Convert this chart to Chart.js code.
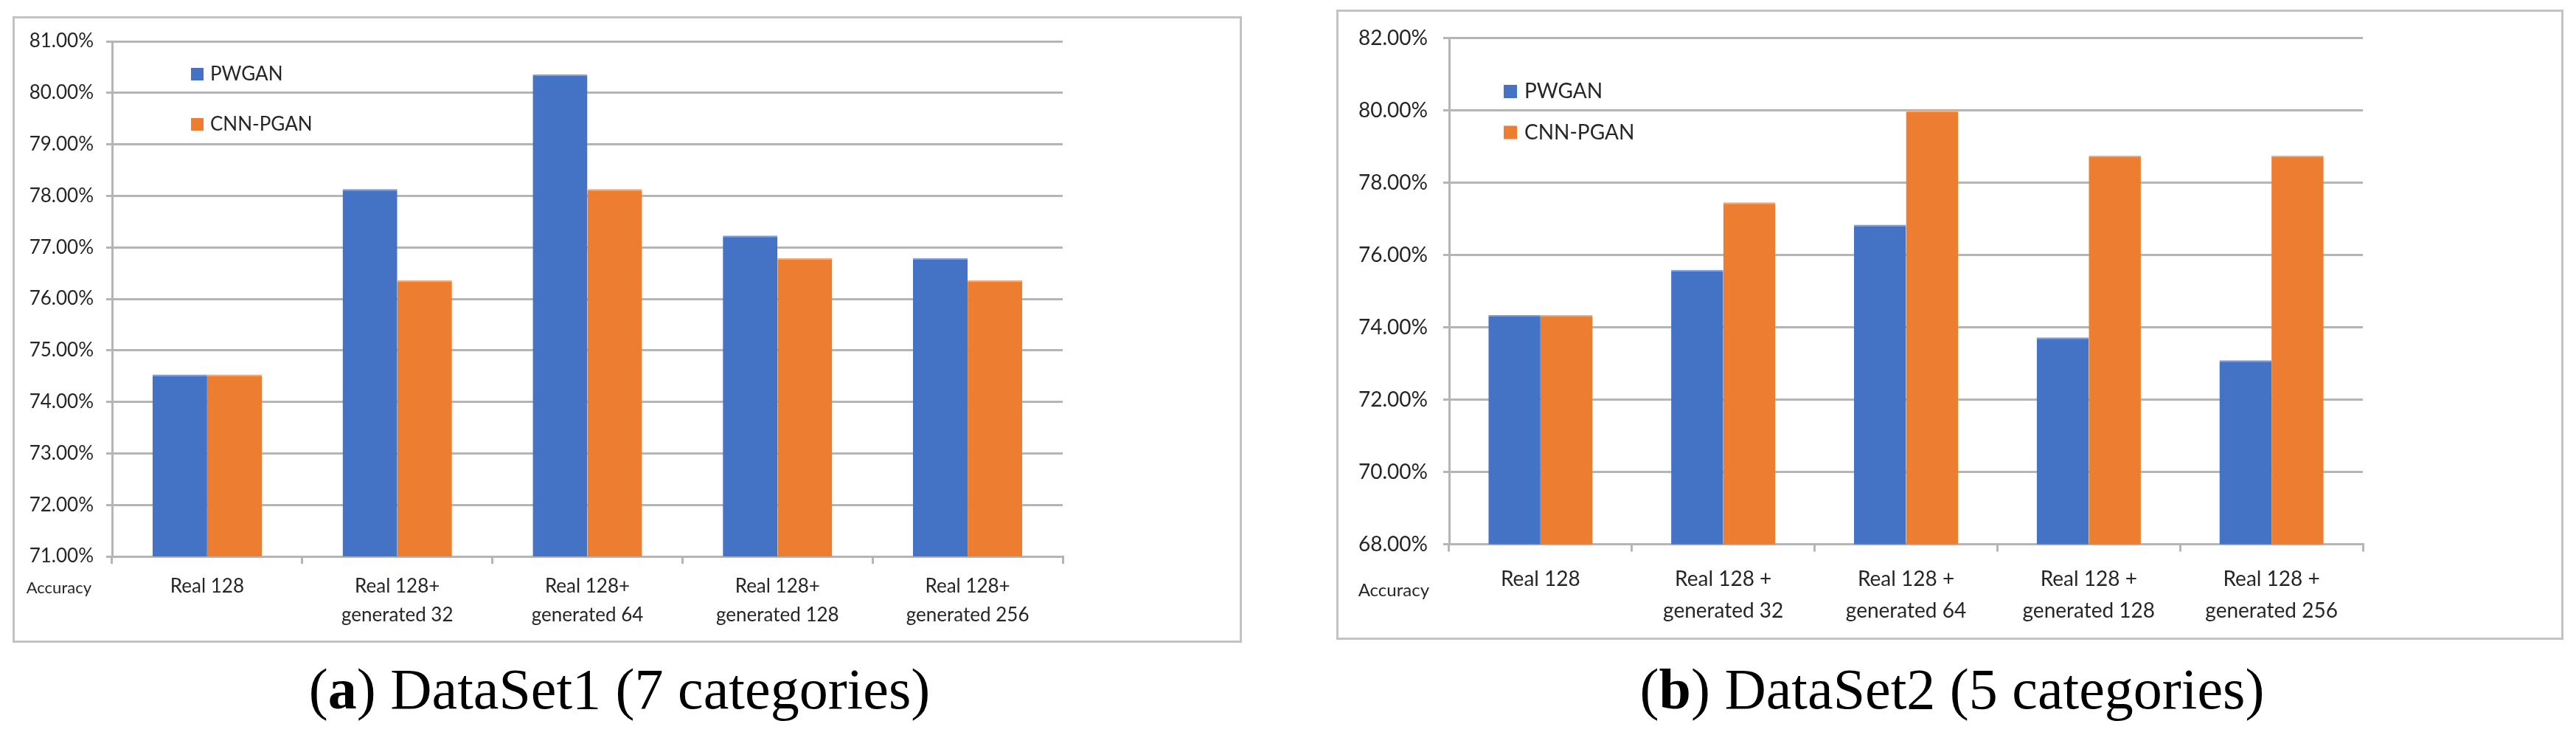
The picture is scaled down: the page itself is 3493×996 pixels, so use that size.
<!DOCTYPE html>
<html>
<head>
<meta charset="utf-8">
<script src="https://cdn.jsdelivr.net/npm/chart.js@4.4.1/dist/chart.umd.min.js"></script>
<style>
  html, body { margin: 0; padding: 0; background: #fff; }
  body { width: 3493px; height: 996px; position: relative; overflow: hidden; }
  .box { position: absolute; }
  .frame { position: absolute; border: 3px solid #c3c3c3; box-sizing: border-box; pointer-events: none; }
  .caption { position: absolute; top: 895px; width: 1400px; text-align: center; font: 78px 'Liberation Serif', 'DejaVu Serif', serif; line-height: 78px; color: #000; white-space: nowrap; }
</style>
</head>
<body>
<div class="box" style="left:18px;top:23px;width:1664px;height:846px"><canvas id="chartA"></canvas></div>
<div class="frame" style="left:17px;top:22px;width:1667px;height:849px"></div>
<div class="box" style="left:1813px;top:14px;width:1661px;height:851px"><canvas id="chartB"></canvas></div>
<div class="frame" style="left:1812px;top:13px;width:1664px;height:854px"></div>
<div class="caption" style="left:140px">(<b>a</b>) DataSet1 (7 categories)</div>
<div class="caption" style="left:1947px">(<b>b</b>) DataSet2 (5 categories)</div>
<script>
const seriesNames = ['PWGAN', 'CNN-PGAN'];
const seriesColors = ['#4472c4', '#ed7d31'];
const edgeColors = ['#7b9bd8', '#f4a874'];

// DataSet1 (7 categories)
const categoriesA = ['Real 128', ['Real 128+', 'generated 32'], ['Real 128+', 'generated 64'],
  ['Real 128+', 'generated 128'], ['Real 128+', 'generated 256']];
const pwganA = [74.53, 78.13, 80.36, 77.23, 76.79];
const cnnA = [74.53, 76.36, 78.13, 76.79, 76.36];
const yTicksA = { min: 71, max: 81, step: 1 };

// DataSet2 (5 categories)
const categoriesB = ['Real 128', ['Real 128 +', 'generated 32'], ['Real 128 +', 'generated 64'],
  ['Real 128 +', 'generated 128'], ['Real 128 +', 'generated 256']];
const pwganB = [74.34, 75.59, 76.84, 73.72, 73.09];
const cnnB = [74.34, 77.46, 80.00, 78.75, 78.75];
const yTicksB = { min: 68, max: 82, step: 2 };

const axisCaption = 'Accuracy';
const textColor = '#262626';
const gridColor = '#b5b5b5';

// legend drawn inside the plot, plus the "Accuracy" label under the value axis
const insideLegend = {
  id: 'insideLegend',
  afterDraw(chart, args, o) {
    const ctx = chart.ctx;
    ctx.save();
    ctx.font = o.font;
    ctx.textBaseline = 'middle';
    chart.data.datasets.forEach((ds, i) => {
      const cy = o.y + i * o.gap;
      ctx.fillStyle = ds.backgroundColor;
      ctx.fillRect(o.x, cy - o.box / 2, o.box, o.box);
      ctx.fillStyle = textColor;
      ctx.fillText(ds.label, o.x + o.box + o.textGap, cy);
    });
    ctx.font = o.axisFont;
    ctx.textAlign = 'right';
    ctx.fillText(o.axisText, o.axisX, o.axisY);
    ctx.restore();
  }
};

function makeChart(id, labels, a, b, yt, s) {
  const font = { family: 'Lato, Carlito, sans-serif', size: s.fontSize };
  return new Chart(document.getElementById(id).getContext('2d'), {
    type: 'bar',
    data: {
      labels,
      datasets: [a, b].map((values, i) => ({
        label: seriesNames[i],
        data: values,
        backgroundColor: seriesColors[i],
        borderColor: edgeColors[i],
        borderWidth: { top: 2, left: 0, right: 0, bottom: 0 },
        borderSkipped: false,
        categoryPercentage: s.catPct,
        barPercentage: 1.0
      }))
    },
    options: {
      responsive: true,
      maintainAspectRatio: false,
      animation: false,
      layout: { padding: { left: 0, top: s.top, right: s.right, bottom: 0 } },
      plugins: {
        legend: { display: false },
        tooltip: { enabled: false },
        insideLegend: {
          font: s.fontSize + 'px Lato, Carlito, sans-serif',
          x: s.legX, y: s.legY, gap: s.legGap, box: s.legBox, textGap: s.legTextGap,
          axisText: axisCaption, axisFont: s.axisFontSize + 'px Lato, Carlito, sans-serif',
          axisX: s.axisX, axisY: s.axisY
        }
      },
      scales: {
        x: {
          afterFit: sc => { sc.height = s.xHeight; },
          grid: { drawOnChartArea: false, drawTicks: true, tickLength: 10, color: gridColor, lineWidth: 3, offset: true },
          border: { display: true, color: gridColor, width: 3 },
          ticks: { font: { ...font, lineHeight: s.lineHeight }, color: textColor, padding: s.xPad, maxRotation: 0, autoSkip: false }
        },
        y: {
          min: yt.min, max: yt.max,
          afterFit: sc => { sc.width = s.yWidth; },
          grid: { color: gridColor, lineWidth: 3, tickLength: 8 },
          border: { display: true, color: gridColor, width: 3 },
          ticks: {
            stepSize: yt.step, font, color: textColor, padding: s.yPad,
            callback: v => v.toFixed(2) + '%'
          }
        }
      }
    },
    plugins: [insideLegend]
  });
}

makeChart('chartA', categoriesA, pwganA, cnnA, yTicksA, {
  fontSize: 26, axisFontSize: 22, catPct: 0.575,
  top: 33, right: 241, yWidth: 134, xHeight: 115,
  lineHeight: 1.5, xPad: 11, yPad: 17,
  legX: 241, legY: 77.5, legGap: 68, legBox: 17, legTextGap: 9,
  axisX: 106, axisY: 774
});

makeChart('chartB', categoriesB, pwganB, cnnB, yTicksB, {
  fontSize: 28, axisFontSize: 24, catPct: 0.57,
  top: 36, right: 270, yWidth: 152, xHeight: 127.5,
  lineHeight: 1.536, xPad: 16, yPad: 21,
  legX: 226, legY: 110, legGap: 55.5, legBox: 18, legTextGap: 10,
  axisX: 125, axisY: 786
});
</script>
</body>
</html>
